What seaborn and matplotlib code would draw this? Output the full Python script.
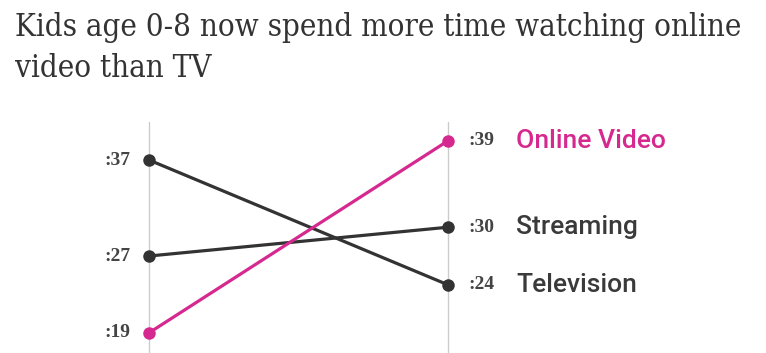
import pandas as pd
import matplotlib.pyplot as plt
from matplotlib import font_manager
import seaborn as sns

series = ['Television', 'Streaming', 'Online Video']
start = [37, 27, 19]
end = [24, 30, 39]
colors = ['#333333', '#333333', '#d6298f']
title = 'Kids age 0-8 now spend more time watching online\nvideo than TV'

rows = []
for s, a, b in zip(series, start, end):
    rows.append({'series': s, 'x': 0, 'value': a})
    rows.append({'series': s, 'x': 1, 'value': b})
df = pd.DataFrame(rows)

# a condensed serif if there is one, else Times-like
cond = font_manager.findfont(font_manager.FontProperties(family='DejaVu Serif', stretch='condensed'))
has_cond = 'Condensed' in cond

sns.set_style('white')
fig = plt.figure(figsize=(7.66, 3.53), dpi=100)
ax = fig.add_axes([149 / 766, 0, (448 - 149) / 766, (353 - 121.6) / 353])

ax.axvline(0, color='#cccccc', lw=1, zorder=0)
ax.axvline(1, color='#cccccc', lw=1, zorder=0)

sns.lineplot(data=df, x='x', y='value', hue='series', hue_order=series,
             palette=dict(zip(series, colors)), marker='o', markersize=9,
             markeredgewidth=0, linewidth=2.3, legend=False, ax=ax)
for ln in ax.lines:
    ln.set_clip_on(False)

serif = ['Liberation Serif', 'DejaVu Serif']
for s, a, b, c in zip(series, start, end, colors):
    ax.annotate(f':{a}', (0, a), xytext=(-13.5, 0), textcoords='offset points',
                ha='right', va='center', fontsize=14, fontweight='bold',
                family=serif, color='#444444')
    ax.annotate(f':{b}', (1, b), xytext=(14.4, 0), textcoords='offset points',
                ha='left', va='center', fontsize=14, fontweight='bold',
                family=serif, color='#444444')
    ax.annotate(s, (1, b), xytext=(49, 0), textcoords='offset points',
                ha='left', va='center', fontsize=19, family='Roboto',
                fontweight='medium', color=c if s == 'Online Video' else '#3a3a3a')

ax.set_xlim(0, 1)
ax.set_ylim(16.9, 41.0)
ax.axis('off')

if has_cond:
    fig.text(15 / 766, 1 - 12 / 353, title, ha='left', va='top', fontsize=22.4,
             family='DejaVu Serif', fontstretch='condensed', color='#333333',
             linespacing=1.4)
else:
    fig.text(15 / 766, 1 - 7 / 353, title, ha='left', va='top', fontsize=25.5,
             family=serif, color='#333333', linespacing=1.1)

fig.savefig('out.png', dpi=100)
